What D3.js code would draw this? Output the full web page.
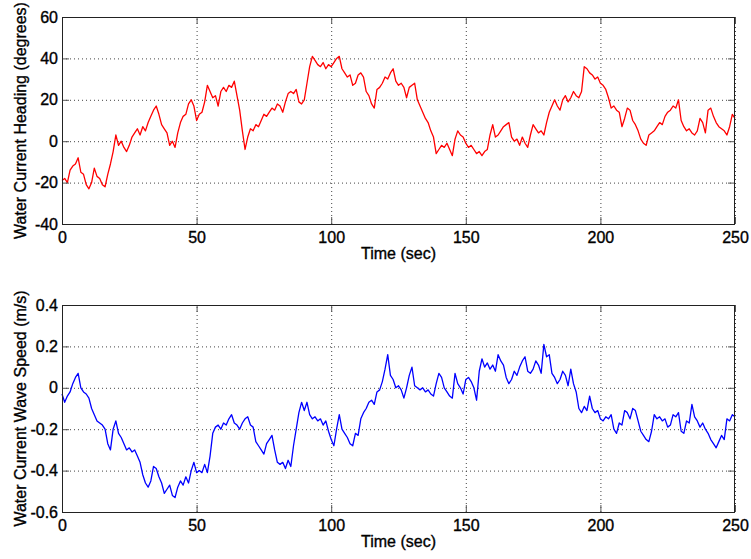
<!DOCTYPE html>
<html>
<head>
<meta charset="utf-8">
<script src="https://cdn.jsdelivr.net/npm/d3@7"></script>
<style>
  html, body { margin: 0; padding: 0; background: #fff; }
  svg { display: block; }
  text { font-family: "Liberation Sans", Arial, Helvetica, sans-serif; fill: #000; }
</style>
</head>
<body>
<svg id="chart" width="751" height="559"></svg>
<script>
// ---- Data (1 sample per second, t = 0..250 s) ----
const timeTicks = [0, 50, 100, 150, 200, 250];
const headingTicks = [-40, -20, 0, 20, 40, 60];
const speedTicks = [-0.6, -0.4, -0.2, 0, 0.2, 0.4];

const heading = [
  -19,-18,-20,-14,-12,-11,-8,-15,-16,-21,
  -23,-20,-13,-17,-18,-21,-22,-16,-11,-5,
  3,-2,0,-3,-5,-2,2,4,6,3,
  7,5,9,12,15,17,13,8,6,4,
  -2,0,-3,4,9,12,13,18,20,17,
  10,13,14,19,27,24,21,22,17,24,
  26,24,27,26,29,22,15,5,-4,2,
  6,5,8,7,10,13,12,14,16,15,
  18,17,14,19,23,24,23,25,19,18,
  20,28,36,41,39,37,36,38,35,37,
  36,38,40,41,35,33,31,32,27,28,
  32,33,31,24,22,18,16,25,26,28,
  31,30,33,35,29,27,28,26,21,26,
  27,28,20,17,14,11,9,5,2,-6,
  -4,-2,-3,-1,-4,-7,1,5,3,2,
  -1,-3,-2,-4,-6,-5,-7,-5,-4,3,
  8,2,3,5,7,8,9,2,0,1,
  -2,2,-1,-3,3,8,6,4,5,3,
  9,14,17,20,17,15,20,22,19,21,
  24,22,21,24,36,35,33,32,30,31,
  28,27,25,21,16,17,15,14,7,11,
  16,15,10,8,5,1,-1,-2,3,4,
  5,7,9,8,12,14,15,17,16,20,
  10,7,5,6,4,3,5,11,9,4,
  15,16,12,9,7,6,5,3,7,13,
  11
];

const speed = [
  -0.03,-0.07,-0.04,-0.02,0.02,0.05,0.07,0.00,-0.02,-0.03,
  -0.05,-0.10,-0.13,-0.16,-0.17,-0.18,-0.20,-0.27,-0.30,-0.20,
  -0.16,-0.22,-0.24,-0.27,-0.30,-0.29,-0.31,-0.30,-0.33,-0.36,
  -0.42,-0.46,-0.48,-0.45,-0.38,-0.39,-0.43,-0.46,-0.51,-0.49,
  -0.47,-0.52,-0.53,-0.48,-0.45,-0.47,-0.43,-0.46,-0.40,-0.36,
  -0.41,-0.40,-0.41,-0.37,-0.41,-0.33,-0.22,-0.19,-0.18,-0.20,
  -0.17,-0.18,-0.15,-0.13,-0.17,-0.18,-0.20,-0.17,-0.15,-0.14,
  -0.18,-0.19,-0.26,-0.28,-0.30,-0.32,-0.27,-0.25,-0.23,-0.30,
  -0.36,-0.37,-0.36,-0.39,-0.35,-0.38,-0.28,-0.20,-0.12,-0.07,
  -0.11,-0.07,-0.13,-0.15,-0.14,-0.16,-0.15,-0.18,-0.16,-0.21,
  -0.25,-0.28,-0.20,-0.13,-0.20,-0.22,-0.24,-0.27,-0.28,-0.22,
  -0.23,-0.15,-0.12,-0.10,-0.07,-0.06,-0.08,-0.02,-0.01,0.03,
  0.09,0.16,0.06,0.04,0.00,0.01,-0.01,-0.05,0.00,0.06,
  0.10,0.01,0.00,-0.01,0.00,-0.02,-0.01,-0.03,-0.04,0.02,
  0.07,0.05,0.00,-0.02,-0.04,-0.05,0.07,0.02,0.00,-0.03,
  0.04,0.05,0.03,0.00,-0.06,0.08,0.14,0.10,0.12,0.09,
  0.11,0.08,0.16,0.13,0.11,0.05,0.02,0.04,0.08,0.06,
  0.10,0.13,0.15,0.08,0.07,0.09,0.13,0.11,0.07,0.21,
  0.15,0.16,0.07,0.05,0.02,0.04,0.08,0.06,0.01,0.09,
  0.02,-0.02,-0.10,-0.12,-0.09,-0.11,-0.04,-0.10,-0.12,-0.11,
  -0.15,-0.16,-0.14,-0.15,-0.13,-0.20,-0.22,-0.17,-0.18,-0.11,
  -0.12,-0.15,-0.10,-0.11,-0.16,-0.21,-0.23,-0.25,-0.26,-0.21,
  -0.13,-0.15,-0.14,-0.16,-0.15,-0.19,-0.18,-0.13,-0.14,-0.12,
  -0.21,-0.22,-0.16,-0.17,-0.08,-0.14,-0.16,-0.19,-0.17,-0.20,
  -0.22,-0.25,-0.27,-0.29,-0.26,-0.23,-0.25,-0.15,-0.16,-0.13,
  -0.14
];
const timeStep = 1; // seconds between samples

// ---- Drawing ----
const svg = d3.select("#chart");
svg.append("rect").attr("width", 751).attr("height", 559).attr("fill", "#fff");

const left = 62, right = 735;
const FONT = '"Liberation Sans", Arial, Helvetica, sans-serif';

function styleText(sel, size) {
  sel.attr("font-size", size).attr("fill", "#000").attr("font-family", FONT)
     .attr("stroke", "#000").attr("stroke-width", 0.35);
}

function panel(cfg) {
  const { top, bottom, values, yTicks, yDomain, color, ylabel } = cfg;
  const x = d3.scaleLinear().domain([0, 250]).range([left, right]);
  const y = d3.scaleLinear().domain(yDomain).range([bottom, top]);
  const g = svg.append("g");
  const w = right - left, h = bottom - top;

  // grid (dotted)
  const grid = g.append("g").attr("class", "grid");
  grid.append("g").attr("transform", `translate(0,${bottom})`)
    .call(d3.axisBottom(x).tickValues(timeTicks).tickSize(-h).tickFormat(""))
    .call(s => s.select(".domain").remove());
  grid.append("g").attr("transform", `translate(${left},0)`)
    .call(d3.axisLeft(y).tickValues(yTicks).tickSize(-w).tickFormat(""))
    .call(s => s.select(".domain").remove());
  grid.selectAll("line").attr("stroke", "#444").attr("stroke-width", 1)
    .attr("stroke-dasharray", "1,3");

  // data line
  const pts = values.map((v, i) => [i * timeStep, v]);
  g.append("path").datum(pts)
    .attr("fill", "none").attr("stroke", color).attr("stroke-width", 1.3)
    .attr("stroke-linejoin", "round")
    .attr("d", d3.line().x(d => x(d[0])).y(d => y(d[1])));

  // inner ticks on all four sides
  const tk = 7;
  const axB = g.append("g").attr("transform", `translate(0,${bottom})`)
    .call(d3.axisBottom(x).tickValues(timeTicks).tickSize(-tk).tickPadding(8).tickFormat(d => String(d)));
  const axT = g.append("g").attr("transform", `translate(0,${top})`)
    .call(d3.axisTop(x).tickValues(timeTicks).tickSize(-tk).tickFormat(""));
  const axL = g.append("g").attr("transform", `translate(${left},0)`)
    .call(d3.axisLeft(y).tickValues(yTicks).tickSize(-tk).tickPadding(4).tickFormat(d => String(d)));
  const axR = g.append("g").attr("transform", `translate(${right},0)`)
    .call(d3.axisRight(y).tickValues(yTicks).tickSize(-tk).tickFormat(""));
  [axB, axT, axL, axR].forEach(a => {
    a.select(".domain").remove();
    a.selectAll("line").attr("stroke", "#555").attr("stroke-width", 1);
    styleText(a.selectAll("text"), 16);
  });

  // frame
  g.append("rect").attr("x", left + 0.5).attr("y", top + 0.5)
    .attr("width", w - 1).attr("height", h)
    .attr("fill", "none").attr("stroke", "#222").attr("stroke-width", 1);

  // labels
  styleText(g.append("text").attr("x", (left + right) / 2).attr("y", bottom + 35)
    .attr("text-anchor", "middle").text("Time (sec)"), 16);
  styleText(g.append("text")
    .attr("transform", `translate(26,${(top + bottom) / 2}) rotate(-90)`)
    .attr("text-anchor", "middle").text(ylabel), 16);
}

panel({ top: 17, bottom: 224, values: heading, yTicks: headingTicks, yDomain: [-40, 60],
        color: "#ff0000", ylabel: "Water Current Heading (degrees)" });
panel({ top: 305, bottom: 512, values: speed, yTicks: speedTicks, yDomain: [-0.6, 0.4],
        color: "#0000ff", ylabel: "Water Current Wave Speed (m/s)" });
</script>
</body>
</html>
